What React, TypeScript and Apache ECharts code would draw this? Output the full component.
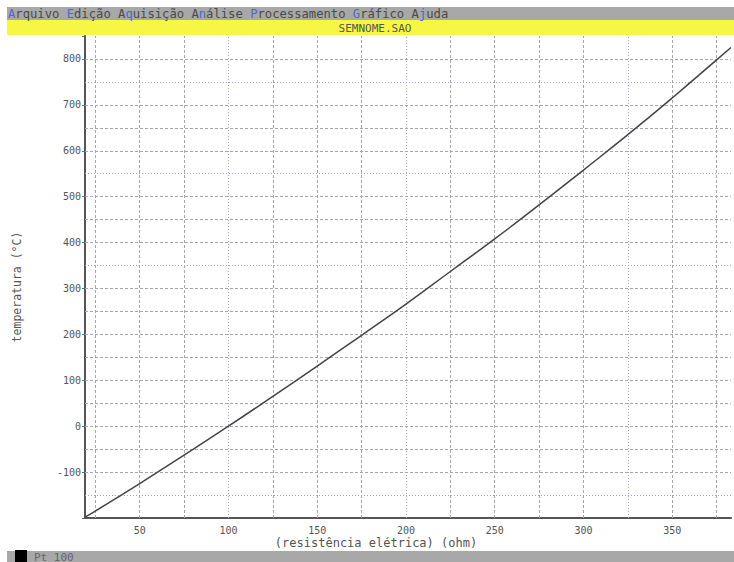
import React, { useEffect, useRef } from "react";
import * as echarts from "echarts";

// Resistance (ohm) and temperature (°C)
const resistance = [19.2, 25, 50, 75, 100, 125, 150, 175, 200, 225, 250, 275, 300, 325, 350, 375, 383.1];
const temperature = [-198, -185, -125, -63, 0, 65, 131, 198, 266, 337, 408, 482, 558, 635, 715, 798, 825];

// Grid line positions
const xGridGray = [25, 50, 75, 125, 150, 175, 225, 250, 275, 300, 350, 375];
const xGridLight = [100, 200, 325];
const yGridGray = [-100, -50, 0, 50, 100, 150, 200, 250, 300, 400, 450, 500, 600, 650, 700, 800];
const yGridLight = [-150, 350, 550, 750];

const menuText =
  "{b|A}rquivo {b|E}dição A{b|q}uisição A{b|n}álise {b|P}rocessamento {b|G}ráfico A{b|j}uda";
const fileTitle = "SEMNOME.SAO";
const yName = "temperatura (°C)";
const xName = "(resistência elétrica) (ohm)";
const statusText = "Pt 100";

const MONO = "'DejaVu Sans Mono', 'Liberation Mono', monospace";

export default function App() {
  const ref = useRef<HTMLDivElement>(null);
  useEffect(() => {
    if (!ref.current) return;
    const chart = echarts.init(ref.current, undefined, { renderer: "svg" });
    const gray = { type: [3, 2] as any, color: "#a8a8a8", width: 1 };
    const light = { type: [1, 2] as any, color: "#9aa0e0", width: 1 };
    const markData: any[] = [
      ...xGridGray.map((v) => ({ xAxis: v, lineStyle: gray })),
      ...xGridLight.map((v) => ({ xAxis: v, lineStyle: light })),
      ...yGridGray.map((v) => ({ yAxis: v, lineStyle: gray })),
      ...yGridLight.map((v) => ({ yAxis: v, lineStyle: light })),
    ];
    chart.setOption({
      animation: false,
      backgroundColor: "#ffffff",
      grid: { left: 85, top: 36, width: 649, height: 482, containLabel: false },
      xAxis: {
        type: "value",
        min: 19.2,
        max: 383.1,
        splitNumber: 7,
        splitLine: { show: false },
        axisLine: { show: true, onZero: false, lineStyle: { color: "#555", width: 2 } },
        axisTick: { show: false },
        axisLabel: {
          margin: 7,
          fontSize: 10,
          fontFamily: MONO,
          color: "#555",
          formatter: (v: number) => (Math.abs(v % 50) < 1e-6 ? String(v) : ""),
        },
      },
      yAxis: {
        type: "value",
        min: -200,
        max: 850,
        interval: 100,
        splitLine: { show: false },
        axisLine: { show: true, onZero: false, lineStyle: { color: "#555", width: 2 } },
        axisTick: { show: true, length: 3, lineStyle: { color: "#666" } },
        axisLabel: {
          margin: 4,
          fontSize: 10,
          fontFamily: MONO,
          color: "#555",
          formatter: (v: number) => (v > -200 && v <= 800 && v % 100 === 0 ? String(v) : ""),
        },
      },
      series: [
        {
          type: "line",
          data: resistance.map((r, i) => [r, temperature[i]]),
          smooth: true,
          showSymbol: false,
          lineStyle: { color: "#444", width: 1.5 },
          z: 5,
          markLine: {
            silent: true,
            symbol: "none",
            label: { show: false },
            data: markData,
            z: 1,
          },
        },
      ],
      graphic: [
        { type: "rect", shape: { x: 7, y: 7, width: 727, height: 13 }, style: { fill: "#a8a8a8" }, silent: true },
        { type: "rect", shape: { x: 7, y: 20, width: 727, height: 15 }, style: { fill: "#f6f645" }, silent: true },
        {
          type: "text",
          x: 8,
          y: 14,
          style: {
            text: menuText,
            font: `12.2px ${MONO}`,
            fill: "#4a4a4a",
            verticalAlign: "middle",
            rich: { b: { fill: "#5560e0", font: `12.2px ${MONO}` } },
          },
        },
        {
          type: "text",
          x: 375,
          y: 28,
          style: { text: fileTitle, font: `11px ${MONO}`, fill: "#555", align: "center", verticalAlign: "middle" },
        },
        {
          type: "text",
          x: 17,
          y: 287,
          rotation: Math.PI / 2,
          style: { text: yName, font: `11.5px ${MONO}`, fill: "#555", align: "center", verticalAlign: "middle" },
        },
        {
          type: "text",
          x: 376,
          y: 543,
          style: { text: xName, font: `12px ${MONO}`, fill: "#555", align: "center", verticalAlign: "middle" },
        },
        { type: "rect", shape: { x: 7, y: 551, width: 727, height: 11 }, style: { fill: "#a8a8a8" }, silent: true },
        { type: "rect", shape: { x: 15, y: 550, width: 12, height: 12 }, style: { fill: "#000" }, silent: true },
        {
          type: "text",
          x: 34,
          y: 557,
          style: { text: statusText, font: `11px ${MONO}`, fill: "#666", verticalAlign: "middle" },
        },
      ],
    });
    return () => chart.dispose();
  }, []);
  return (
    <div
      ref={ref}
      style={{ position: "fixed", left: 0, top: 0, width: 734, height: 562, background: "#fff" }}
    />
  );
}
